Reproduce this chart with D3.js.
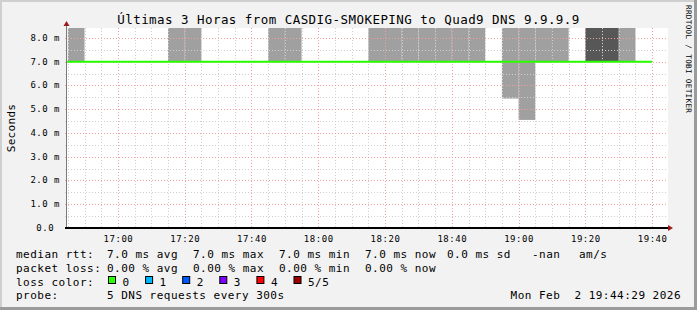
<!DOCTYPE html>
<html>
<head>
<meta charset="utf-8">
<script src="https://cdn.jsdelivr.net/npm/d3@7"></script>
<style>
body { margin: 0; background: #fff; }
svg { display: block; }
text { font-family: "DejaVu Sans Mono", monospace; fill: #000; }
</style>
</head>
<body>
<svg id="chart" width="697" height="310"></svg>
<script>
const titleText = "Últimas 3 Horas from CASDIG-SMOKEPING to Quad9 DNS 9.9.9.9";
const yLabel = "Seconds";
const day = "2026-02-02";
const timeRange = ["16:44:45", "19:44:45"];

const yMajor = [0, 1, 2, 3, 4, 5, 6, 7, 8];
const yMajorLabels = ["0.0 ", "1.0 m", "2.0 m", "3.0 m", "4.0 m", "5.0 m", "6.0 m", "7.0 m", "8.0 m"];
const yMinor = [0.5, 1.5, 2.5, 3.5, 4.5, 5.5, 6.5, 7.5, 8.0];

// smoke, one 5 min slot each (hi is off the top of the graph)
const smokeTimes = ["16:45", "17:15", "17:20", "17:45", "17:50",
  "18:15", "18:20", "18:25", "18:30", "18:35", "18:40", "18:45",
  "18:55", "19:00", "19:05", "19:10", "19:20", "19:25", "19:30"];
const smokeLow = [7.0, 7.0, 7.0, 7.0, 7.0,
  7.0, 7.0, 7.0, 7.0, 7.0, 7.0, 7.0,
  5.45, 4.55, 7.0, 7.0, 7.0, 7.0, 7.0];
const smokeHigh = [9.0, 9.0, 9.0, 9.0, 9.0,
  9.0, 9.0, 9.0, 9.0, 9.0, 9.0, 9.0,
  9.0, 9.0, 9.0, 9.0, 9.0, 9.0, 9.0];
const smokeDark = [0, 0, 0, 0, 0,
  0, 0, 0, 0, 0, 0, 0,
  0, 0, 0, 0, 1, 1, 0];

// median rtt per 5 min slot, 16:40 .. 19:35
const medianRtt = [7.0, 7.0, 7.0, 7.0, 7.0, 7.0, 7.0, 7.0, 7.0, 7.0, 7.0, 7.0,
  7.0, 7.0, 7.0, 7.0, 7.0, 7.0, 7.0, 7.0, 7.0, 7.0, 7.0, 7.0,
  7.0, 7.0, 7.0, 7.0, 7.0, 7.0, 7.0, 7.0, 7.0, 7.0, 7.0, 7.0];

const rttStats = ["7.0 ms avg", "7.0 ms max", "7.0 ms min", "7.0 ms now", "0.0 ms sd", "-nan", "am/s"];
const lossStats = ["0.00 % avg", "0.00 % max", "0.00 % min", "0.00 % now"];
const lossLabels = ["0", "1", "2", "3", "4", "5/5"];
const lossColors = ["#26ff00", "#00b8ff", "#0059ff", "#7e00ff", "#ff0000", "#a10000"];
const probeText = "5 DNS requests every 300s";
const dateText = "Mon Feb  2 19:44:29 2026";

const t = (s) => new Date(day + "T" + (s.length === 5 ? s + ":00" : s) + "Z");

const svg = d3.select("#chart");
const W = 697, H = 310;
const pLeft = 67, pRight = 668, pTop = 28, pBottom = 228;

// background + 3d border
svg.append("rect").attr("width", W).attr("height", H).attr("fill", "#f2f2f2");
svg.append("path").attr("d", `M0,0H${W}V2H2V${H}H0Z`).attr("fill", "#cfcfcf");
svg.append("path").attr("d", `M${W},0V${H}H0V${H - 3}H${W - 3}V0Z`).attr("fill", "#9b9b9b");

const x = d3.scaleUtc().domain(timeRange.map(t)).range([pLeft, pRight]);
const y = d3.scaleLinear().domain([0, 8.42]).range([pBottom, pTop]);

svg.append("rect").attr("x", pLeft).attr("y", pTop)
  .attr("width", pRight - pLeft).attr("height", pBottom - pTop).attr("fill", "#fff");

svg.append("clipPath").attr("id", "plot").append("rect")
  .attr("x", pLeft).attr("y", pTop).attr("width", pRight - pLeft).attr("height", pBottom - pTop);

// smoke
const step = 5 * 60 * 1000;
svg.append("g").attr("clip-path", "url(#plot)").selectAll("rect")
  .data(smokeTimes.map((s, i) => ({ t: t(s), lo: smokeLow[i], hi: smokeHigh[i], dark: smokeDark[i] })))
  .join("rect")
  .attr("x", (d) => x(d.t))
  .attr("width", (d) => x(new Date(+d.t + step)) - x(d.t))
  .attr("y", (d) => y(d.hi))
  .attr("height", (d) => y(d.lo) - y(d.hi))
  .attr("fill", (d) => (d.dark ? "#575757" : "#a0a0a0"));

// grid
const grid = svg.append("g").attr("stroke-dasharray", "1,2").attr("shape-rendering", "crispEdges");
const minutes5 = d3.utcMinute.every(5).range(...x.domain());
const majorX = d3.utcMinute.every(20).range(...x.domain());
grid.selectAll(".vmin").data(minutes5.filter((d) => d.getUTCMinutes() % 20 !== 0))
  .join("line").attr("class", "vmin")
  .attr("x1", (d) => Math.round(x(d)) + 0.5).attr("x2", (d) => Math.round(x(d)) + 0.5)
  .attr("y1", pTop).attr("y2", pBottom).attr("stroke", "#cfcfcf");
grid.selectAll(".hmin").data(yMinor.filter((v) => !yMajor.includes(v)))
  .join("line").attr("class", "hmin")
  .attr("x1", pLeft - 2).attr("x2", pRight)
  .attr("y1", (d) => Math.round(y(d)) + 0.5).attr("y2", (d) => Math.round(y(d)) + 0.5)
  .attr("stroke", "#cfcfcf");
grid.selectAll(".vmaj").data(majorX)
  .join("line").attr("class", "vmaj")
  .attr("x1", (d) => Math.round(x(d)) + 0.5).attr("x2", (d) => Math.round(x(d)) + 0.5)
  .attr("y1", pTop).attr("y2", pBottom).attr("stroke", "#f2a0a0");
grid.selectAll(".hmaj").data(yMajor.slice(1))
  .join("line").attr("class", "hmaj")
  .attr("x1", pLeft - 2).attr("x2", pRight)
  .attr("y1", (d) => Math.round(y(d)) + 0.5).attr("y2", (d) => Math.round(y(d)) + 0.5)
  .attr("stroke", "#f2a0a0");

// median line, on top of the grid
const medTimes = d3.utcMinute.every(5).range(t("16:40"), t("19:40"));
const medPts = medTimes.map((d, i) => ({ t: d, v: medianRtt[i] }));
medPts.push({ t: t("19:40"), v: medianRtt[medianRtt.length - 1] });
svg.append("g").attr("clip-path", "url(#plot)").append("path")
  .datum(medPts)
  .attr("fill", "none")
  .attr("stroke", lossColors[0])
  .attr("stroke-width", 2)
  .attr("d", d3.line().x((d) => x(d.t)).y((d) => y(d.v)).curve(d3.curveStepAfter));

// axes
svg.append("line").attr("x1", pLeft - 0.5).attr("x2", pLeft - 0.5)
  .attr("y1", pBottom).attr("y2", pTop - 3).attr("stroke", "#7a7a7a");
svg.append("line").attr("x1", pLeft - 2).attr("x2", pRight)
  .attr("y1", y(0)).attr("y2", y(0)).attr("stroke", "#000").attr("stroke-width", 2);
svg.append("path").attr("d", `M${pRight},${pBottom - 3}L${pRight + 5},${pBottom}L${pRight},${pBottom + 3}Z`)
  .attr("fill", "#9e1a1a");
svg.append("path").attr("d", `M${pLeft - 3.5},${pTop - 2}L${pLeft - 0.5},${pTop - 7}L${pLeft + 2.5},${pTop - 2}Z`)
  .attr("fill", "#9e1a1a");

// y labels
svg.append("g").selectAll("text").data(yMajor).join("text")
  .attr("x", 60).attr("y", (d) => y(d) + 3)
  .attr("text-anchor", "end")
  .style("white-space", "pre")
  .attr("font-size", 9).attr("letter-spacing", 0.5).attr("fill", "#222")
  .text((d, i) => yMajorLabels[i]);

// x labels
svg.append("g").selectAll("text").data(majorX).join("text")
  .attr("x", (d) => x(d) + 0.5).attr("y", 241.5)
  .attr("text-anchor", "middle")
  .attr("font-size", 9).attr("letter-spacing", 0.55).attr("fill", "#222")
  .text(d3.utcFormat("%H:%M"));

// title and side texts
svg.append("text").attr("x", 348.5).attr("y", 23.5).attr("text-anchor", "middle")
  .attr("font-size", 12.5).attr("letter-spacing", 0.45).text(titleText);
svg.append("text").attr("transform", `translate(14.5,${(pTop + pBottom) / 2}) rotate(-90)`)
  .attr("text-anchor", "middle").attr("font-size", 11).attr("letter-spacing", 0.3).text(yLabel);
svg.append("text").attr("transform", "translate(685.5,5) rotate(90)")
  .attr("font-size", 7.6).attr("letter-spacing", 0.35).attr("fill", "#a8a8a8")
  .text("RRDTOOL / TOBI OETIKER");

// legend
const legend = svg.append("g").attr("font-size", 11).attr("letter-spacing", 0.48);
const rows = [258.3, 271.8, 285.7, 299.3];
const lg = (xx, yy, s, anchor) => legend.append("text").attr("x", xx).attr("y", yy)
  .attr("text-anchor", anchor || "start").style("white-space", "pre").text(s);

lg(16, rows[0], "median rtt:");
[107, 193, 279, 365, 447, 532, 579].forEach((xx, i) => lg(xx, rows[0], rttStats[i]));
lg(16, rows[1], "packet loss:");
[107, 193, 279, 365].forEach((xx, i) => lg(xx, rows[1], lossStats[i]));
lg(16, rows[2], "loss color:");
lossLabels.forEach((s, i) => {
  legend.append("rect").attr("x", 108.5 + i * 37.1).attr("y", 276.5)
    .attr("width", 7).attr("height", 7)
    .attr("fill", lossColors[i]).attr("stroke", "#000");
  lg(122.5 + i * 37.1, rows[2], s);
});
lg(16, rows[3], "probe:");
lg(107, rows[3], probeText);
lg(681, rows[3], dateText, "end");
</script>
</body>
</html>
